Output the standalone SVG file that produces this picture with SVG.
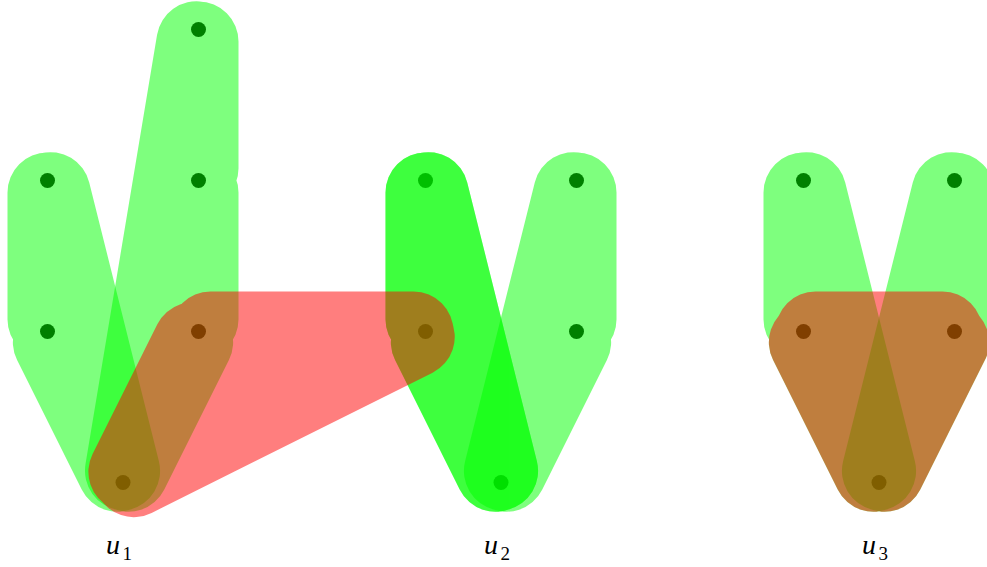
<svg xmlns="http://www.w3.org/2000/svg" width="987" height="567" viewBox="0 0 987 567">
<style>
.g{opacity:.5}
.g polygon{fill:#0f0}
.g path{fill:none;stroke:#0f0;stroke-width:80;stroke-linecap:round}
.r{opacity:.5}
.r polygon{fill:#f00}
.r path{fill:none;stroke:#f00;stroke-width:80;stroke-linecap:round}
.n{fill:#008000}
.n1{fill:#00bf00}
.n2{fill:#00df00}
.lbl{font-family:"Liberation Serif","Times New Roman",serif;font-size:28px;fill:#000}
</style>
<rect width="987" height="567" fill="#fff"/>
<g id="hyperedges-green">
 <g id="e-u1-left" class="g"><polygon points="47.5,180.5 47.5,331.5 123,482.5"/><path d="M47.5,192.5L47.5,319.5M52.87,342.23L117.63,471.77M120.09,470.86L50.41,192.14"/></g>
 <g id="e-u1-tall" class="g"><polygon points="198.5,29.5 198.5,331.5 123,482.5"/><path d="M198.5,41.5L198.5,168.5M198.5,192.5L198.5,319.5M193.13,342.23L128.37,471.77M124.97,470.66L196.53,41.34"/></g>
 <g id="e-u2-left-a" class="g"><polygon points="425.5,180.5 425.5,331.5 501,482.5"/><path d="M425.5,192.5L425.5,319.5M430.87,342.23L495.63,471.77M498.09,470.86L428.41,192.14"/></g>
 <g id="e-u2-left-b" class="g"><polygon points="425.5,180.5 425.5,331.5 501,482.5"/><path d="M425.5,192.5L425.5,319.5M430.87,342.23L495.63,471.77M498.09,470.86L428.41,192.14"/></g>
 <g id="e-u2-right" class="g"><polygon points="576.5,180.5 576.5,331.5 501,482.5"/><path d="M576.5,192.5L576.5,319.5M571.13,342.23L506.37,471.77M503.91,470.86L573.59,192.14"/></g>
 <g id="e-u3-left" class="g"><polygon points="803.5,180.5 803.5,331.5 879,482.5"/><path d="M803.5,192.5L803.5,319.5M808.87,342.23L873.63,471.77M876.09,470.86L806.41,192.14"/></g>
 <g id="e-u3-right" class="g"><polygon points="954.5,180.5 954.5,331.5 879,482.5"/><path d="M954.5,192.5L954.5,319.5M949.13,342.23L884.37,471.77M881.91,470.86L951.59,192.14"/></g>
</g>
<g id="nodes">
 <g id="n-u1-a"><circle class="n" cx="198.5" cy="29.5" r="7.5"/></g>
 <g id="n-u1-b"><circle class="n" cx="47.5" cy="180.5" r="7.5"/></g>
 <g id="n-u1-c"><circle class="n" cx="198.5" cy="180.5" r="7.5"/></g>
 <g id="n-u1-d"><circle class="n" cx="47.5" cy="331.5" r="7.5"/></g>
 <g id="n-u1-e"><circle class="n" cx="198.5" cy="331.5" r="7.5"/></g>
 <g id="n-u1"><circle class="n1" cx="123" cy="482.5" r="7.5"/></g>
 <g id="n-u2-b"><circle class="n1" cx="425.5" cy="180.5" r="7.5"/></g>
 <g id="n-u2-c"><circle class="n" cx="576.5" cy="180.5" r="7.5"/></g>
 <g id="n-u2-d"><circle class="n1" cx="425.5" cy="331.5" r="7.5"/></g>
 <g id="n-u2-e"><circle class="n" cx="576.5" cy="331.5" r="7.5"/></g>
 <g id="n-u2"><circle class="n2" cx="501" cy="482.5" r="7.5"/></g>
 <g id="n-u3-b"><circle class="n" cx="803.5" cy="180.5" r="7.5"/></g>
 <g id="n-u3-c"><circle class="n" cx="954.5" cy="180.5" r="7.5"/></g>
 <g id="n-u3-d"><circle class="n" cx="803.5" cy="331.5" r="7.5"/></g>
 <g id="n-u3-e"><circle class="n" cx="954.5" cy="331.5" r="7.5"/></g>
 <g id="n-u3"><circle class="n1" cx="879" cy="482.5" r="7.5"/></g>
</g>
<g id="hyperedges-red">
 <g id="e-red-u1" class="r"><polygon points="198.5,331.5 425.5,331.5 123,482.5"/><path d="M210.5,331.5L413.5,331.5M414.76,336.86L133.74,477.14M128.37,471.77L193.13,342.23"/></g>
 <g id="e-red-u3" class="r"><polygon points="803.5,331.5 954.5,331.5 879,482.5"/><path d="M815.5,331.5L942.5,331.5M949.13,342.23L884.37,471.77M873.63,471.77L808.87,342.23"/></g>
</g>
<g id="labels">
 <text class="lbl" x="106" y="553.5"><tspan font-style="italic">u</tspan><tspan x="122.5" y="560" font-size="19">1</tspan></text>
 <text class="lbl" x="484" y="553.5"><tspan font-style="italic">u</tspan><tspan x="500.5" y="560" font-size="19">2</tspan></text>
 <text class="lbl" x="862" y="553.5"><tspan font-style="italic">u</tspan><tspan x="878.5" y="560" font-size="19">3</tspan></text>
</g>
</svg>
